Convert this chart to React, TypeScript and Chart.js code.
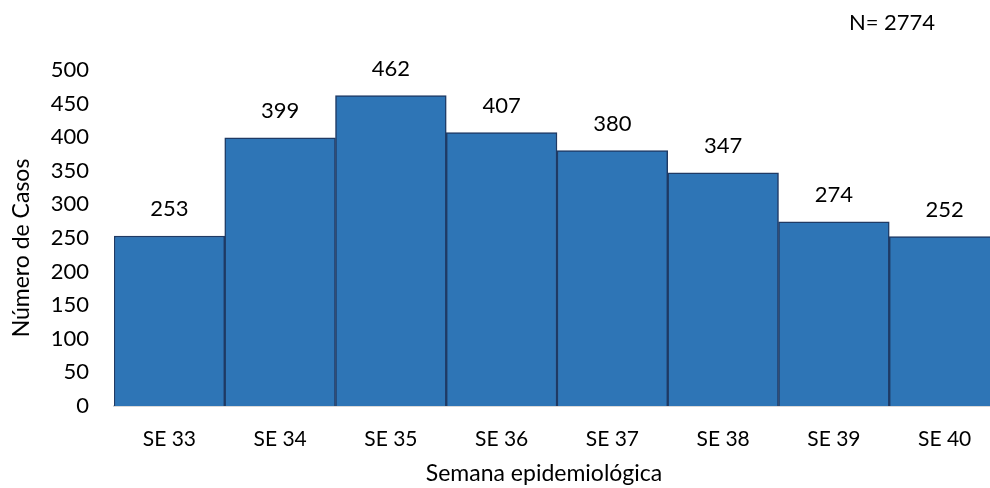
import React, { useEffect, useRef } from "react";
import { Chart, registerables } from "chart.js";

Chart.register(...registerables);

const categories = ["SE 33", "SE 34", "SE 35", "SE 36", "SE 37", "SE 38", "SE 39", "SE 40"];
const casos = [253, 399, 462, 407, 380, 347, 274, 252];
const yTitle = "Número de Casos";
const xTitle = "Semana epidemiológica";
const totalLabel = "N= 2774";

const FONT = "Lato";

const labelsPlugin = {
  id: "valueLabels",
  afterDatasetsDraw(chart: any) {
    const ctx = chart.ctx;
    const meta = chart.getDatasetMeta(0);
    ctx.save();
    ctx.font = `22px ${FONT}`;
    ctx.fillStyle = "#000000";
    ctx.textAlign = "center";
    ctx.textBaseline = "middle";
    meta.data.forEach((bar: any, i: number) => {
      ctx.fillText(String(casos[i]), bar.x, bar.y - 27);
    });
    ctx.font = `22px ${FONT}`;
    ctx.fillText(totalLabel, 892, 23);
    ctx.font = `23px ${FONT}`;
    ctx.fillText(xTitle, 544, 474);
    ctx.translate(22, 248);
    ctx.rotate(-Math.PI / 2);
    ctx.fillText(yTitle, 0, 0);
    ctx.restore();
  },
};

export default function App() {
  const ref = useRef<HTMLCanvasElement | null>(null);
  useEffect(() => {
    document.body.style.margin = "0";
    const chart = new Chart(ref.current as HTMLCanvasElement, {
      type: "bar",
      data: {
        labels: categories,
        datasets: [
          {
            data: casos,
            backgroundColor: "#2E75B6",
            borderColor: "#1F3A64",
            borderWidth: 1.5,
            barPercentage: 1,
            categoryPercentage: 1,
          },
        ],
      },
      options: {
        responsive: false,
        animation: false,
        maintainAspectRatio: false,
        layout: { padding: { top: 70, right: 0, left: 0, bottom: 0 } },
        plugins: { legend: { display: false }, tooltip: { enabled: false } },
        scales: {
          x: {
            grid: { display: false, drawTicks: false },
            border: { display: true, color: "#D9D9D9", width: 2 },
            ticks: { color: "#000", font: { family: FONT, size: 21 }, padding: 21, maxRotation: 0 },
            afterFit(scale: any) {
              scale.height = 82;
            },
          },
          y: {
            min: 0,
            max: 500,
            grid: { display: false, drawTicks: false },
            border: { display: false },
            ticks: { stepSize: 50, color: "#000", font: { family: FONT, size: 22 }, padding: 25 },
            afterFit(scale: any) {
              scale.width = 114;
            },
          },
        },
      },
      plugins: [labelsPlugin],
    });
    return () => chart.destroy();
  }, []);
  return (
    <div style={{ position: "absolute", left: 0, top: 0, width: 990, height: 488, overflow: "hidden" }}>
      <canvas ref={ref} width={1000} height={488} style={{ width: 1000, height: 488 }} />
    </div>
  );
}
